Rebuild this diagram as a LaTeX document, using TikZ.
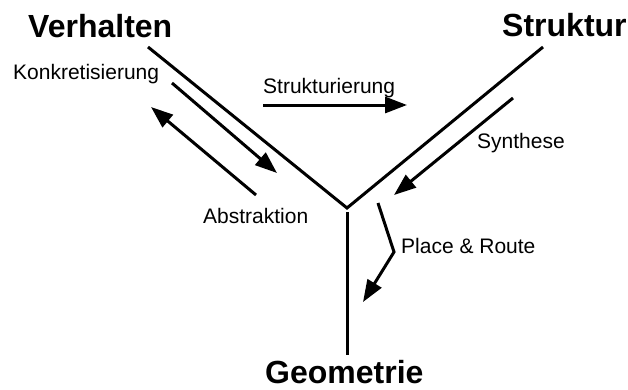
\documentclass[tikz,border=0pt]{standalone}
\usepackage{fontspec}
\setmainfont{Liberation Sans}
\usetikzlibrary{arrows.meta}

\begin{document}
\begin{tikzpicture}[x=1pt, y=1pt, >={Triangle[length=22pt,width=16pt]},
  achse/.style={line width=3pt},
  pfeil/.style={line width=3pt, ->},
  gross/.style={font=\fontsize{32}{32}\selectfont\bfseries, anchor=base west, inner sep=0pt},
  klein/.style={font=\fontsize{21}{21}\selectfont, anchor=base west, inner sep=0pt}]
\useasboundingbox (0,0) rectangle (628,389);

% Y-Diagramm
\coordinate (verh) at (148,342);
\coordinate (strukt) at (543,342);
\coordinate (mitte) at (347,181);
\coordinate (geooben) at (347,177);
\coordinate (geounten) at (347,34);
\draw[achse] (verh) -- (mitte) -- (strukt);
\draw[achse] (geooben) -- (geounten);

% Achsenbeschriftung
\node[gross] (verhalten) at (28,351) {Verhalten};
\node[gross] (struktur) at (502,352) {Struktur};
\node[gross] (geometrie) at (265,6) {Geometrie};

% Pfeile
\coordinate (k1) at (172,306);
\coordinate (k2) at (277,216);
\draw[pfeil] (k1) -- (k2);
\coordinate (a1) at (256,194);
\coordinate (a2) at (151,282);
\draw[pfeil] (a1) -- (a2);
\coordinate (s1) at (263,284);
\coordinate (s2) at (407,284);
\draw[pfeil] (s1) -- (s2);
\coordinate (y1) at (513,291);
\coordinate (y2) at (394,194);
\draw[pfeil] (y1) -- (y2);
\coordinate (p1) at (378,186);
\coordinate (p2) at (394,137);
\coordinate (p3) at (363,87);
\draw[pfeil] (p1) -- (p2) -- (p3);

% Beschriftung der Pfeile
\node[klein] (konkret) at (13,309) {Konkretisierung};
\node[klein] (strukturierung) at (263,296) {Strukturierung};
\node[klein] (synthese) at (477,241) {Synthese};
\node[klein] (abstraktion) at (203,166) {Abstraktion};
\node[klein] (placeroute) at (401,136) {Place \& Route};
\end{tikzpicture}
\end{document}
